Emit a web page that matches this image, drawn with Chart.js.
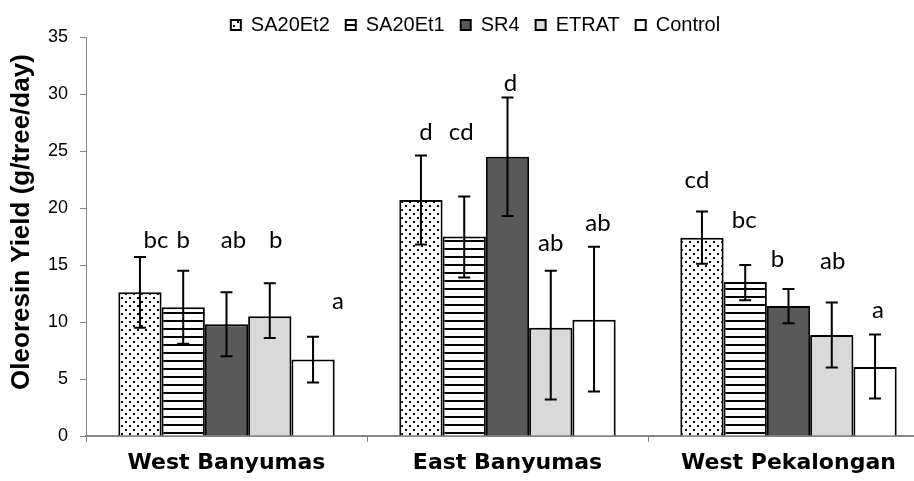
<!DOCTYPE html>
<html>
<head>
<meta charset="utf-8">
<script src="https://cdn.jsdelivr.net/npm/chart.js@4.4.1/dist/chart.umd.min.js"></script>
<style>
  html, body { margin: 0; padding: 0; background: #fff; overflow: hidden; }
  #wrap { width: 932px; height: 481px; position: relative; }
</style>
</head>
<body>
<div id="wrap"><canvas id="yieldChart"></canvas></div>
<script>
const regions = ['West Banyumas', 'East Banyumas', 'West Pekalongan'];
const treatments = ['SA20Et2', 'SA20Et1', 'SR4', 'ETRAT', 'Control'];

// mean yield per region (g/tree/day)
const sa20et2 = [12.6, 20.7, 17.4];
const sa20et1 = [11.3, 17.5, 13.5];
const sr4 = [9.8, 24.5, 11.4];
const etrat = [10.5, 9.5, 8.85];
const control = [6.7, 10.2, 6.05];

// error bar ends, one row per treatment
const errLow = [[9.5, 16.8, 15.1], [8.1, 13.9, 11.9], [7.0, 19.3, 9.9], [8.6, 3.2, 6.0], [4.7, 3.9, 3.3]];
const errHigh = [[15.7, 24.6, 19.7], [14.5, 21.0, 15.0], [12.6, 29.7, 12.9], [13.4, 14.5, 11.7], [8.7, 16.6, 8.9]];

// significance letters and the value they sit at
const letters = [['bc', 'd', 'cd'], ['b', 'cd', 'bc'], ['ab', 'd', 'b'], ['b', 'ab', 'ab'], ['a', 'ab', 'a']];
const letterY = [[17.2, 26.6, 22.4], [17.2, 26.6, 18.9], [17.2, 30.9, 15.5], [17.2, 16.9, 15.3], [11.8, 18.7, 11.0]];
// small horizontal nudges (px) like the hand-placed labels
const letterDx = [[16, 5, -5], [0, -3, -1], [7, 3, -11], [6, 0, 1], [25, 4, 3]];

function makePattern(draw) {
    const c = document.createElement('canvas');
    c.width = 8; c.height = 8;
    const g = c.getContext('2d');
    g.fillStyle = '#fff';
    g.fillRect(0, 0, 8, 8);
    g.fillStyle = '#000';
    draw(g);
    return g.createPattern(c, 'repeat');
}
const dots = makePattern(g => { g.fillRect(1, 1, 2, 2); g.fillRect(5, 5, 2, 2); });
const stripes = makePattern(g => { g.fillRect(0, 0, 8, 2); });

const errorBars = {
    id: 'errorBars',
    afterDatasetsDraw(chart) {
        const ctx = chart.ctx;
        const y = chart.scales.y;
        ctx.save();
        ctx.strokeStyle = '#000';
        ctx.lineWidth = 2;
        chart.data.datasets.forEach((ds, i) => {
            chart.getDatasetMeta(i).data.forEach((bar, j) => {
                const top = y.getPixelForValue(errHigh[i][j]);
                const bot = y.getPixelForValue(errLow[i][j]);
                ctx.beginPath();
                ctx.moveTo(bar.x, top); ctx.lineTo(bar.x, bot);
                ctx.moveTo(bar.x - 6, top); ctx.lineTo(bar.x + 6, top);
                ctx.moveTo(bar.x - 6, bot); ctx.lineTo(bar.x + 6, bot);
                ctx.stroke();
            });
        });
        // letters above the bars
        ctx.fillStyle = '#000';
        ctx.font = '24px Lato';
        ctx.textAlign = 'center';
        ctx.textBaseline = 'middle';
        chart.data.datasets.forEach((ds, i) => {
            chart.getDatasetMeta(i).data.forEach((bar, j) => {
                ctx.fillText(letters[i][j], bar.x + letterDx[i][j], y.getPixelForValue(letterY[i][j]));
            });
        });
        ctx.restore();
    }
};

// nudge the legend row to where it sits in the original
const legendShift = {
    id: 'legendShift',
    afterLayout(chart) {
        const l = chart.legend;
        l.left += 11; l.right += 11;
        l.top += 8; l.bottom += 8;
    }
};

const fills = [dots, stripes, '#595959', '#d9d9d9', '#ffffff'];
const series = [sa20et2, sa20et1, sr4, etrat, control];

const ctx = document.getElementById('yieldChart').getContext('2d');
const chart = new Chart(ctx, {
    type: 'bar',
    data: {
        labels: regions,
        datasets: treatments.map((name, i) => ({
            label: name,
            data: series[i],
            backgroundColor: fills[i],
            borderColor: '#000',
            borderWidth: 2,
            categoryPercentage: 0.77,
            barPercentage: 1.0
        }))
    },
    options: {
        responsive: true,
        maintainAspectRatio: false,
        animation: false,
        layout: { padding: { top: -9, right: 3, left: 0, bottom: 0 } },
        plugins: {
            tooltip: { enabled: false },
            legend: {
                position: 'top',
                labels: {
                    boxWidth: 10,
                    boxHeight: 10,
                    padding: 16,
                    color: '#000',
                    font: { family: 'Liberation Sans', size: 20 }
                }
            }
        },
        scales: {
            x: {
                grid: { drawOnChartArea: false, drawTicks: true, tickLength: 6, color: '#868686', offset: true },
                border: { color: '#868686', width: 2 },
                ticks: {
                    color: '#000',
                    padding: 8,
                    font: { family: 'DejaVu Sans', size: 22, weight: 'bold' }
                },
                afterFit(scale) { scale.height = 45; }
            },
            y: {
                min: 0,
                max: 35,
                ticks: {
                    stepSize: 5,
                    color: '#000',
                    padding: 12,
                    font: { family: 'Liberation Sans', size: 18 }
                },
                grid: { drawOnChartArea: false, drawTicks: true, tickLength: 6, color: '#868686' },
                border: { color: '#868686', width: 1 },
                title: {
                    display: true,
                    text: '    Oleoresin Yield (g/tree/day)',
                    color: '#000',
                    padding: { top: 6, bottom: 0 },
                    font: { family: 'Liberation Sans', size: 26, weight: 'bold' }
                },
                afterFit(scale) { scale.width = 86; }
            }
        }
    },
    plugins: [errorBars, legendShift]
});
</script>
</body>
</html>
